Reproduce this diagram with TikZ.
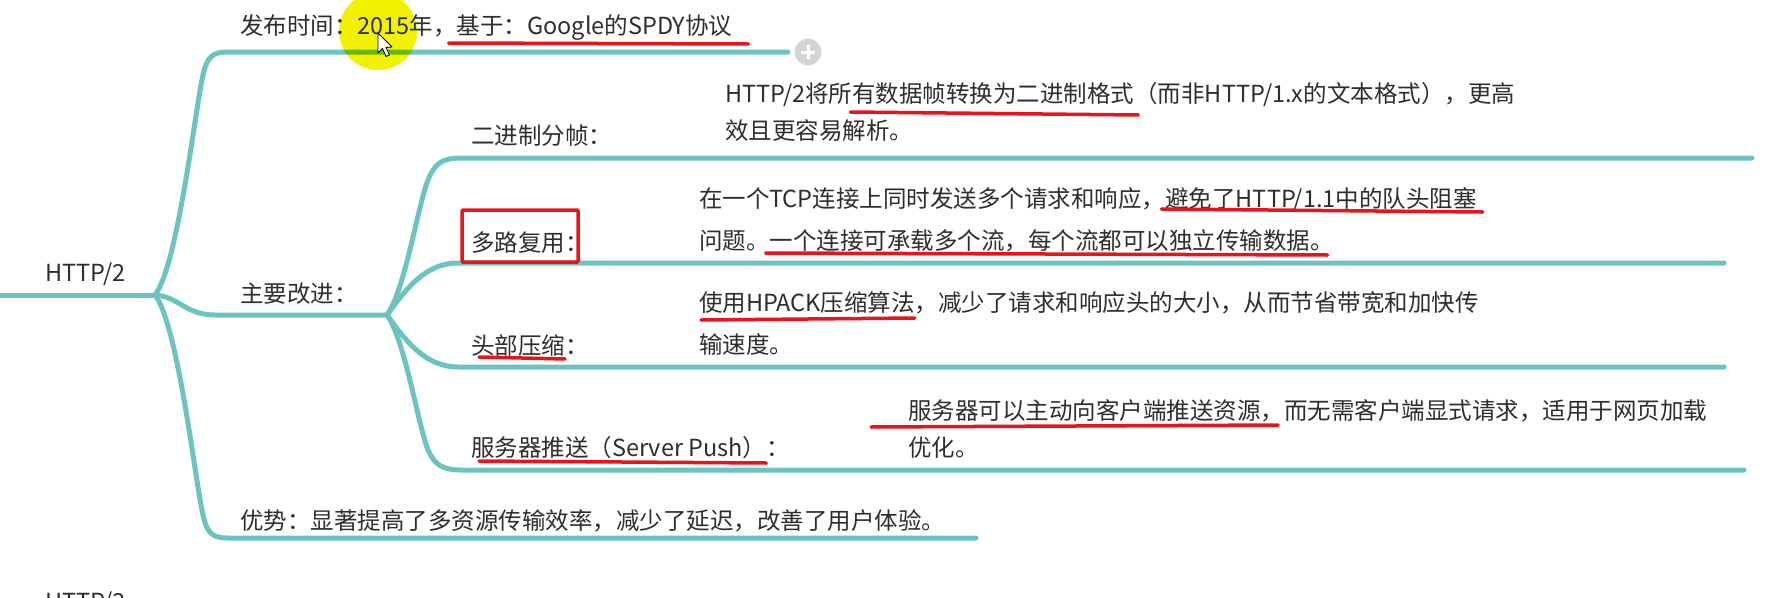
\documentclass[tikz,border=0pt]{standalone}
\usepackage{fontspec}
\newfontfamily\cjk{Noto Sans CJK SC}
\usetikzlibrary{calc}
\definecolor{tealline}{HTML}{6CC3C0}
\definecolor{txt}{HTML}{2E2E2E}
\definecolor{redmark}{HTML}{E8141C}
\definecolor{plusgray}{HTML}{D4D4D4}
\definecolor{hiyellow}{HTML}{F2F200}
\begin{document}
\begin{tikzpicture}[x=1pt,y=-1pt,
  br/.style={draw=tealline, line width=5pt, line cap=round},
  tx/.style={inner sep=0pt, outer sep=0pt, anchor=base west, text=txt,
    font=\cjk\fontsize{23.5}{28}\selectfont},
  ul/.style={draw=redmark, line width=3.5pt, line cap=round},
  redbox/.style={draw=redmark, line width=3.5pt, rounded corners=1pt}]
\useasboundingbox (0,0) rectangle (1790,597);
\fill[white] (0,0) rectangle (1790,597);

% ---------- branch coordinates ----------
\coordinate (rootL) at (0,295);
\coordinate (root) at (155,295);
\coordinate (sub) at (387,315);
\coordinate (b1e) at (788,52);
\coordinate (b3e) at (976,538);
\coordinate (s1e) at (1752,158);
\coordinate (s2e) at (1724,263);
\coordinate (s3e) at (1724,367);
\coordinate (s4e) at (1744,470);

% ---------- connectors ----------
\draw[br] (rootL) -- (root);
\draw[br] (root) .. controls (178,265) and (195,110) .. (203,75)
  .. controls (207,57) and (212,52) .. (228,52) -- (b1e);
\draw[br] (root) .. controls (180,297) and (185,315) .. (215,315) -- (sub);
\draw[br] (root) .. controls (178,325) and (195,480) .. (203,515)
  .. controls (207,533) and (212,538) .. (228,538) -- (b3e);
\draw[br] (sub) .. controls (405,290) and (418,205) .. (428,180)
  .. controls (435,163) and (442,158) .. (462,158) -- (s1e);
\draw[br] (sub) .. controls (405,290) and (425,263) .. (458,263) -- (s2e);
\draw[br] (sub) .. controls (405,340) and (425,367) .. (458,367) -- (s3e);
\draw[br] (sub) .. controls (405,340) and (418,425) .. (428,450)
  .. controls (435,465) and (442,470) .. (462,470) -- (s4e);

% plus icon
\node[circle, fill=plusgray, minimum size=27pt, inner sep=0pt] (plus) at (808,52) {};
\draw[white, line width=3pt] ([xshift=-7pt]plus.center) -- ([xshift=7pt]plus.center);
\draw[white, line width=3pt] ([yshift=-7pt]plus.center) -- ([yshift=7pt]plus.center);

% yellow highlight
\fill[hiyellow, blend mode=multiply] (378,31) circle (39);

% ---------- texts ----------
\node[tx] (root t) at (45,281) {HTTP/2};
\node[tx] (n1a) at (240,34) {发布时间：2015年，};
\node[tx] (n1b) at (n1a.base east) {基于：Google的SPDY协议};
\node[tx] (main) at (240,302) {主要改进：};
\node[tx] (adv) at (240,529) {优势：显著提高了多资源传输效率，减少了延迟，改善了用户体验。};

\node[tx] (l1) at (471,144) {二进制分帧：};
\node[tx] (d1a) at (725,102) {HTTP/2将所};
\node[tx] (d1b) at (d1a.base east) {有数据帧转换为二进制格式};
\node[tx] (d1c) at (d1b.base east) {（而非HTTP/1.x的文本格式），更高};
\node[tx] (d1d) at (725,139) {效且更容易解析。};

\node[tx] (l2) at (471,251) {多路复用：};
\node[tx] (d2a) at (699,207) {在一个TCP连接上同时发送多个请求和响应，};
\node[tx] (d2b) at (d2a.base east) {避免了HTTP/1.1中的队头阻塞};
\node[tx] (d2c) at (699,249) {问题。};
\node[tx] (d2d) at (d2c.base east) {一个连接可承载多个流，每个流都可以独立传输数据。};

\node[tx] (l3a) at (471,354) {头部压缩};
\node[tx] (l3b) at (l3a.base east) {：};
\node[tx] (d3a) at (699,311) {使用HPACK压缩算法};
\node[tx] (d3b) at (d3a.base east) {，减少了请求和响应头的大小，从而节省带宽和加快传};
\node[tx] (d3c) at (699,353) {输速度。};

\node[tx] (l4a) at (471,456) {服务器推送（Server Push）};
\node[tx] (l4b) at (l4a.base east) {：};
\node[tx] (d4a) at (908,419) {服务器可以主动向客户端推送资源，};
\node[tx] (d4b) at (d4a.base east) {而无需客户端显式请求，适用于网页加载};
\node[tx] (d4c) at (908,456) {优化。};

\node[tx] (next) at (45,610) {HTTP/3};

% ---------- red annotations ----------
\draw[ul] ([xshift=-8pt]n1b.base west |- 0,43) -- ([xshift=16pt]n1b.base east |- 0,44);
\draw[ul] ([xshift=-2pt]d1b.base west |- 0,112) -- ([xshift=4pt]d1b.base east |- 0,115);
\draw[ul] ([xshift=-4pt]d2b.base west |- 0,209) -- ([xshift=6pt]d2b.base east |- 0,212);
\draw[ul] ([xshift=-4pt]d2d.base west |- 0,253) -- ([xshift=-6pt]d2d.base east |- 0,255);
\draw[ul] ([xshift=2pt]d3a.base west |- 0,320) -- ([xshift=0pt]d3a.base east |- 0,318);
\draw[ul] ([xshift=-37pt]d4a.base west |- 0,427) -- ([xshift=-6pt]d4a.base east |- 0,425);
\draw[ul] ([xshift=8pt]l3a.base west |- 0,357) -- ([xshift=0pt]l3a.base east |- 0,359);
\draw[ul] ([xshift=8pt]l4a.base west |- 0,461) -- ([xshift=0pt]l4a.base east |- 0,463);
\draw[redbox] ($(l2.base west)+(-9,-41)$) rectangle ++(116,52);

% cursor
\draw[black, fill=white, line width=0.8pt, line join=round]
  (378,33) -- (378,53) -- (382.5,48.5) -- (386,56.5) -- (389.5,55) -- (386,47.5) -- (392,47) -- cycle;
\end{tikzpicture}
\end{document}
